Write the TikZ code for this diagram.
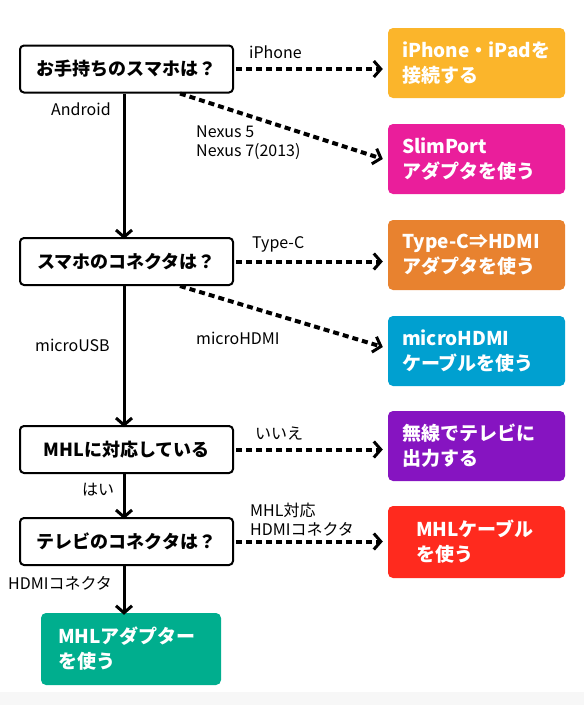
\documentclass[tikz,border=0pt]{standalone}
\usepackage{fontspec}
\setmainfont{Noto Sans CJK JP}
\usetikzlibrary{arrows.meta,positioning}
\definecolor{cOrangeA}{HTML}{FBB52B}
\definecolor{cPink}{HTML}{EA1E9B}
\definecolor{cOrangeB}{HTML}{E8822F}
\definecolor{cBlue}{HTML}{00A0D0}
\definecolor{cPurple}{HTML}{8614C1}
\definecolor{cRed}{HTML}{FF2A1E}
\definecolor{cGreen}{HTML}{00AE8E}
\definecolor{cBand}{HTML}{F7F7F7}
\begin{document}
\begin{tikzpicture}[x=1pt,y=-1pt,
  qbox/.style={draw=black,line width=2pt,rounded corners=4pt,fill=white,
    minimum width=213pt,minimum height=47pt,inner sep=0pt,
    font=\fontsize{18}{21}\selectfont\bfseries},
  abox/.style={fill=#1,rounded corners=5pt,minimum width=177pt,minimum height=70pt,
    inner sep=0pt,text=white,align=left,text width=149pt,
    font=\fontsize{19}{25}\selectfont\bfseries},
  lbl/.style={font=\fontsize{16}{19}\selectfont,inner sep=0pt,align=left},
  solidarrow/.style={line width=3pt,-{Straight Barb[length=7pt,width=16pt,line width=3pt]}},
  dasharrow/.style={line width=4pt,dash pattern=on 6pt off 4pt,
    -{Straight Barb[length=7pt,width=16pt,line width=3pt]}}
]
\useasboundingbox (0,0) rectangle (584,705);
\fill[cBand] (0,692) rectangle (584,705);

\node[qbox] (q1) at (126.5,69) {お手持ちのスマホは？};
\node[qbox] (q2) at (126.5,261.5) {スマホのコネクタは？};
\node[qbox] (q3) at (126.5,449.5) {MHLに対応している};
\node[qbox] (q4) at (126.5,541.5) {テレビのコネクタは？};

\node[abox=cOrangeA] (a1) at (476.5,63) {iPhone・iPadを\\接続する};
\node[abox=cPink] (a2) at (476.5,159) {SlimPort\\アダプタを使う};
\node[abox=cOrangeB] (a3) at (476.5,255) {Type-C⇒HDMI\\アダプタを使う};
\node[abox=cBlue] (a4) at (476.5,351) {microHDMI\\ケーブルを使う};
\node[abox=cPurple] (a5) at (476.5,446) {無線でテレビに\\出力する};
\node[abox=cRed,minimum height=72pt,text width=121pt] (a6) at (476.5,542) {MHLケーブル\\を使う};
\node[abox=cGreen,minimum width=180pt,minimum height=72pt,text width=146pt] (a7) at (131,649) {MHLアダプター\\を使う};

% solid arrows
\draw[solidarrow] ([xshift=-2.5pt]q1.south) -- ([xshift=-2.5pt,yshift=-2pt]q2.north);
\draw[solidarrow] ([xshift=-2.5pt]q2.south) -- ([xshift=-2.5pt,yshift=-2pt]q3.north);
\draw[solidarrow] ([xshift=-2.5pt]q3.south) -- ([xshift=-2.5pt,yshift=-2pt]q4.north);
\draw[solidarrow] ([xshift=-2.5pt]q4.south) -- ([xshift=-2.5pt,yshift=-2pt]q4.south |- a7.north);

% dashed arrows
\draw[dasharrow] ([xshift=2pt]q1.east) -- ([xshift=-5pt]q1.east -| a1.west);
\draw[dasharrow] ([xshift=53.5pt]q1.south) -- ([xshift=-5pt]a2.west);
\draw[dasharrow] ([xshift=2pt]q2.east) -- ([xshift=-5pt]q2.east -| a3.west);
\draw[dasharrow] ([xshift=53.5pt]q2.south) -- ([xshift=-5pt,yshift=4pt]a4.west);
\draw[dasharrow] ([xshift=2pt]q3.east) -- ([xshift=-5pt]q3.east -| a5.west);
\draw[dasharrow] ([xshift=2pt]q4.east) -- ([xshift=-5pt]q4.east -| a6.west);

% labels
\node[lbl,anchor=west] (l1) at (249,52) {iPhone};
\node[lbl,anchor=west] (l2) at (51,109) {Android};
\node[lbl,anchor=west] (l3) at (196,143) {Nexus 5\\Nexus 7(2013)};
\node[lbl,anchor=west] (l4) at (252,244) {Type-C};
\node[lbl,anchor=west] (l5) at (35,345) {microUSB};
\node[lbl,anchor=west] (l6) at (196,338) {microHDMI};
\node[lbl,anchor=west] (l7) at (255,434) {いいえ};
\node[lbl,anchor=west] (l8) at (82,490) {はい};
\node[lbl,anchor=west] (l9) at (250,520) {MHL対応\\HDMIコネクタ};
\node[lbl,anchor=west] (l10) at (8,583) {HDMIコネクタ};
\end{tikzpicture}
\end{document}
